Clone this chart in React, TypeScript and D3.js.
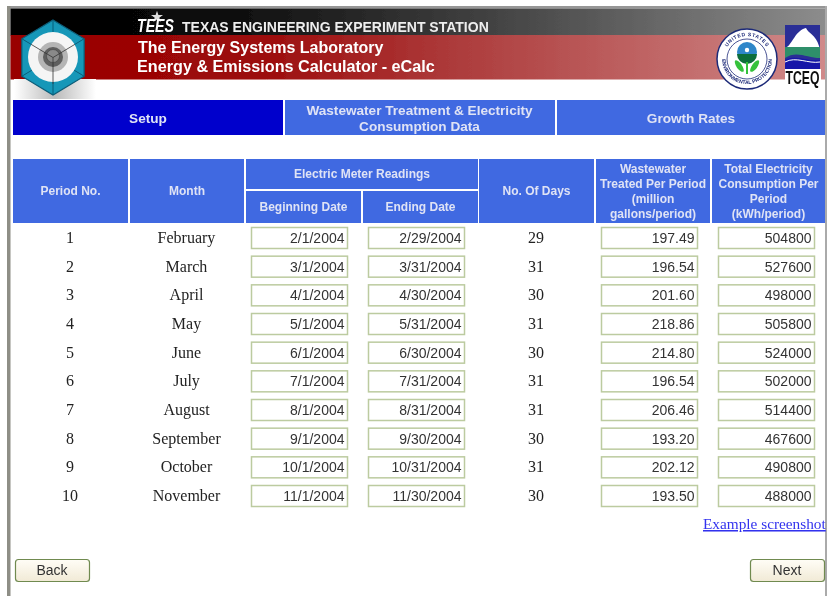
import React from "react";
import * as d3 from "d3";

// table values
const periods = ["1", "2", "3", "4", "5", "6", "7", "8", "9", "10"];
const months = ["February", "March", "April", "May", "June", "July", "August", "September", "October", "November"];
const beginDates = ["2/1/2004", "3/1/2004", "4/1/2004", "5/1/2004", "6/1/2004", "7/1/2004", "8/1/2004", "9/1/2004", "10/1/2004", "11/1/2004"];
const endDates = ["2/29/2004", "3/31/2004", "4/30/2004", "5/31/2004", "6/30/2004", "7/31/2004", "8/31/2004", "9/30/2004", "10/31/2004", "11/30/2004"];
const days = [29, 31, 30, 31, 30, 31, 31, 30, 31, 30];
const wastewater = ["197.49", "196.54", "201.60", "218.86", "214.80", "196.54", "206.46", "193.20", "202.12", "193.50"];
const electricity = [504800, 527600, 498000, 505800, 524000, 502000, 514400, 467600, 490800, 488000];
const wastewaterHead = ["Wastewater", "Treated Per Period", "(million", "gallons/period)"];
const electricityHead = ["Total Electricity", "Consumption Per", "Period", "(kWh/period)"];

const BLUE = "#4169e1";
const HEAD_TEXT = "#dfe3f5";
const SANS = "'Liberation Sans', Arial, sans-serif";
const SERIF = "'Liberation Serif', 'Times New Roman', serif";

const rowY = d3.scalePoint<string>().domain(periods).range([238, 496]);

function Field({ x, y, text }: { x: number; y: number; text: string }) {
  return (
    <g>
      <rect x={x + 0.5} y={y - 10.5} width={96} height={21} fill="#fff" stroke="#bccba0" strokeWidth={1.5} />
      <text x={x + 93.5} y={y + 5} textAnchor="end" fontFamily={SANS} fontSize={14} fill="#333">
        {text}
      </text>
    </g>
  );
}

function HeadCell({ x, y, w, h, lines, lh = 15 }: { x: number; y: number; w: number; h: number; lines: string[]; lh?: number }) {
  const cy = y + h / 2;
  const top = cy - ((lines.length - 1) * lh) / 2 + 4;
  return (
    <g>
      <rect x={x} y={y} width={w} height={h} fill={BLUE} />
      {lines.map((l, i) => (
        <text key={l} x={x + w / 2} y={top + i * lh} textAnchor="middle" fontFamily={SANS} fontWeight="bold" fontSize={12} fill={HEAD_TEXT}>
          {l}
        </text>
      ))}
    </g>
  );
}

function Button({ x, label }: { x: number; label: string }) {
  return (
    <g>
      <rect x={x + 0.5} y={559.5} width={74} height={22} rx={3} fill="url(#btn)" stroke="#6f8a50" strokeWidth={1.2} />
      <text x={x + 37} y={575} textAnchor="middle" fontFamily={SANS} fontSize={14} fill="#333">
        {label}
      </text>
    </g>
  );
}

function EpaSeal() {
  const leaf = d3.line().curve(d3.curveBasisClosed);
  return (
    <g>
      <circle cx={747} cy={59} r={30} fill="#fff" stroke="#1d2a78" strokeWidth={1.5} />
      <circle cx={747} cy={59} r={20} fill="none" stroke="#1d2a78" strokeWidth={0.8} />
      <circle cx={747} cy={52} r={10} fill="#2f86c9" />
      <path d="M737 54 A10 10 0 0 0 757 54 Z" fill="#0e6e3a" />
      <circle cx={747} cy={50} r={2.2} fill="#fff" />
      <path d={leaf([[733, 58], [737, 70], [746, 74], [741, 62]]) ?? ""} fill="#35c23a" />
      <path d={leaf([[761, 58], [757, 70], [748, 74], [753, 62]]) ?? ""} fill="#35c23a" />
      <path d="M747 62 V74" stroke="#35c23a" strokeWidth={2} />
      <defs>
        <path id="sealTop" d="M724 59 A23 23 0 0 1 770 59" />
        <path id="sealBot" d="M722 59 A25 25 0 0 0 772 59" />
      </defs>
      <text fontFamily={SANS} fontSize={5} fontWeight="bold" fill="#1d2a78" letterSpacing={0.6}>
        <textPath href="#sealTop" startOffset="50%" textAnchor="middle">UNITED STATES</textPath>
      </text>
      <text fontFamily={SANS} fontSize={5} fontWeight="bold" fill="#1d2a78">
        <textPath href="#sealBot" startOffset="50%" textAnchor="middle">ENVIRONMENTAL PROTECTION</textPath>
      </text>
    </g>
  );
}

function TceqLogo() {
  return (
    <g>
      <rect x={785} y={69} width={36} height={16} fill="#fff" />
      <rect x={785} y={25} width={35} height={44} fill="#2a2f96" />
      <path d="M787 47 C792 44 796 30 806 28 C808 33 816 35 819 46 L820 50 H787 Z" fill="#fff" />
      <path d="M785 47 H820 V58 C808 58 796 50 785 58 Z" fill="#2f8f6b" />
      <path d="M785 60 C796 54 808 62 820 60 V69 H785 Z" fill="#1418a8" />
      <path d="M785 62 C796 56 808 64 820 62" fill="none" stroke="#fff" strokeWidth={1} />
      <text transform="translate(802.5,84) scale(0.68,1)" textAnchor="middle" fontFamily={SANS} fontWeight="bold" fontSize={18} fill="#111">
        TCEQ
      </text>
    </g>
  );
}

function HexLogo() {
  const hex = d3.range(6).map((i) => {
    const a = (Math.PI / 3) * i - Math.PI / 2;
    return [53 + 36 * Math.cos(a), 57.5 + 37.5 * Math.sin(a)] as [number, number];
  });
  return (
    <g>
      <rect x={14} y={79} width={82} height={20} fill="url(#hexShade)" />
      <path d={`M${hex.join("L")}Z`} fill="#1597b8" stroke="#0d5d78" strokeWidth={1.2} />
      {hex.map((v, i) => (
        <line key={i} x1={53} y1={57.5} x2={v[0]} y2={v[1]} stroke="#0d5d78" strokeWidth={1} />
      ))}
      <circle cx={53} cy={57} r={25} fill="#f5f5f5" />
      <circle cx={53} cy={57} r={15} fill="#b5b5b5" />
      <circle cx={53} cy={57} r={10} fill="#5e5e5e" />
      <circle cx={53} cy={56} r={6.5} fill="#8a8a8a" stroke="#444" strokeWidth={0.6} />
      {[1, 3, 5].map((i) => (
        <line key={i} x1={53} y1={57.5} x2={53 + (hex[i][0] - 53) * 0.7} y2={57.5 + (hex[i][1] - 57.5) * 0.7} stroke="#333" strokeWidth={0.8} />
      ))}
    </g>
  );
}

export default function App() {
  const star = d3.symbol(d3.symbolStar, 45)() ?? "";
  return (
    <svg width={827} height={596} style={{ position: "absolute", left: 0, top: 0, background: "#fff" }}>
      <defs>
        <linearGradient id="topBar">
          <stop offset="0" stopColor="#000" />
          <stop offset="0.25" stopColor="#0a0a0a" />
          <stop offset="0.6" stopColor="#444" />
          <stop offset="1" stopColor="#8c8c8c" />
        </linearGradient>
        <linearGradient id="redBar">
          <stop offset="0" stopColor="#990000" />
          <stop offset="0.3" stopColor="#9c0a0a" />
          <stop offset="0.55" stopColor="#ad3c3c" />
          <stop offset="1" stopColor="#d08a8a" />
        </linearGradient>
        <linearGradient id="hexShade" x1="0" y1="0" x2="1" y2="0">
          <stop offset="0" stopColor="#fff" />
          <stop offset="0.5" stopColor="#bbb" />
          <stop offset="1" stopColor="#fff" />
        </linearGradient>
        <linearGradient id="btn" x1="0" y1="0" x2="0" y2="1">
          <stop offset="0" stopColor="#fffdf6" />
          <stop offset="1" stopColor="#f1ead6" />
        </linearGradient>
        {/* the reference is a slightly soft screenshot */}
        <filter id="soft" x="0" y="0" width="100%" height="100%">
          <feGaussianBlur stdDeviation="0.35" />
        </filter>
      </defs>

      <g filter="url(#soft)">
        {/* page frame */}
        <rect x={7} y={6} width={820} height={2.5} fill="#969696" />
        <rect x={7} y={6} width={3.5} height={590} fill="#8e8e86" />
        <rect x={825} y={6} width={2} height={590} fill="#aaa" />

        {/* banner */}
        <rect x={10.5} y={8.5} width={814.5} height={27} fill="url(#topBar)" />
        <rect x={10.5} y={35} width={814.5} height={44.5} fill="url(#redBar)" />
        <HexLogo />
        <path d={star} transform="translate(157,17)" fill="#ddd" />
        <text x={137} y={32} fontFamily={SANS} fontWeight="bold" fontStyle="italic" fontSize={19} textLength={37} lengthAdjust="spacingAndGlyphs" fill="#fff">
          TEES
        </text>
        <text x={182} y={32} fontFamily={SANS} fontWeight="bold" fontSize={14} fill="#eee">
          TEXAS ENGINEERING EXPERIMENT STATION
        </text>
        <text x={138} y={53} fontFamily={SANS} fontWeight="bold" fontSize={16} fill="#fff">
          The Energy Systems Laboratory
        </text>
        <text x={137} y={72} fontFamily={SANS} fontWeight="bold" fontSize={16.2} fill="#fff">
          Energy &amp; Emissions Calculator - eCalc
        </text>
        <EpaSeal />
        <TceqLogo />

        {/* tabs */}
        <rect x={13} y={100} width={270} height={35} fill="#0000cc" />
        <rect x={285} y={100} width={270} height={35} fill={BLUE} />
        <rect x={557} y={100} width={268} height={35} fill={BLUE} />
        <g fontFamily={SANS} fontWeight="bold" fontSize={13.6} fill={HEAD_TEXT} textAnchor="middle">
          <text x={148} y={123}>Setup</text>
          <text x={419.5} y={115}>Wastewater Treatment &amp; Electricity</text>
          <text x={419.5} y={131}>Consumption Data</text>
          <text x={691} y={123}>Growth Rates</text>
        </g>

        {/* table head */}
        <HeadCell x={13} y={159} w={115} h={64} lines={["Period No."]} />
        <HeadCell x={130} y={159} w={114} h={64} lines={["Month"]} />
        <HeadCell x={246} y={159} w={232} h={30} lines={["Electric Meter Readings"]} />
        <HeadCell x={246} y={191} w={115} h={32} lines={["Beginning Date"]} />
        <HeadCell x={363} y={191} w={115} h={32} lines={["Ending Date"]} />
        <HeadCell x={479} y={159} w={115} h={64} lines={["No. Of Days"]} />
        <HeadCell x={596} y={159} w={114} h={64} lines={wastewaterHead} />
        <HeadCell x={712} y={159} w={113} h={64} lines={electricityHead} />

        {/* table rows */}
        {periods.map((p, i) => {
          const y = rowY(p) ?? 0;
          return (
            <g key={p}>
              <g fontFamily={SERIF} fontSize={16} fill="#222" textAnchor="middle">
                <text x={70} y={y + 5}>{p}</text>
                <text x={186.5} y={y + 5}>{months[i]}</text>
                <text x={536} y={y + 5}>{days[i]}</text>
              </g>
              <Field x={251} y={y} text={beginDates[i]} />
              <Field x={368} y={y} text={endDates[i]} />
              <Field x={601} y={y} text={wastewater[i]} />
              <Field x={718} y={y} text={String(electricity[i])} />
            </g>
          );
        })}

        <text x={703} y={529} fontFamily={SERIF} fontSize={15.3} fill="#3333ee" textDecoration="underline">
          Example screenshot
        </text>

        <Button x={15} label="Back" />
        <Button x={750} label="Next" />
      </g>
    </svg>
  );
}
